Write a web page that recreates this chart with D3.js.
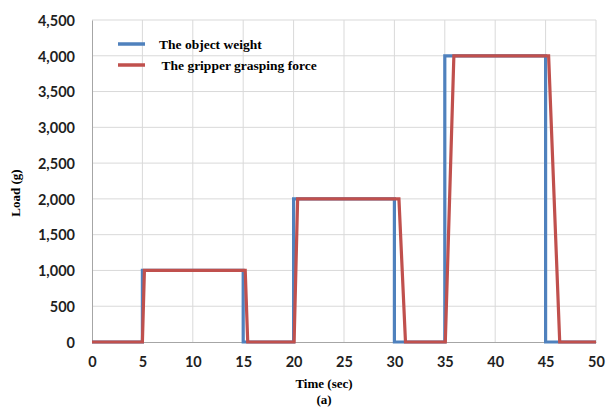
<!DOCTYPE html>
<html>
<head>
<meta charset="utf-8">
<script src="https://cdn.jsdelivr.net/npm/d3@7"></script>
<style>
  html, body { margin: 0; padding: 0; background: #fff; }
  svg { display: block; }
</style>
</head>
<body>
<svg id="chart" width="616" height="410"></svg>
<script>
// Object weight: ideal step profile (time in sec, load in g)
const weightTime = [0, 5, 5, 15, 15, 20, 20, 30, 30, 35, 35, 45, 45, 50];
const weightLoad = [0, 0, 1000, 1000, 0, 0, 2000, 2000, 0, 0, 4000, 4000, 0, 0];

// Gripper grasping force: follows the weight with a short ramp lag
const forceTime = [0, 5.0, 5.2, 15.2, 15.45, 20.05, 20.4, 30.45, 31.1, 35.05, 35.9, 45.3, 46.4, 50];
const forceLoad = [0, 0, 1000, 1000, 0, 0, 2000, 2000, 0, 0, 4000, 4000, 0, 0];

const xTicks = [0, 5, 10, 15, 20, 25, 30, 35, 40, 45, 50];
const yTicks = [0, 500, 1000, 1500, 2000, 2500, 3000, 3500, 4000, 4500];

const seriesNames = ["The object weight", "The gripper grasping force"];
const seriesColors = ["#4F81BD", "#C0504D"];

const svg = d3.select("#chart");
const plotLeft = 92, plotRight = 596, plotTop = 20, plotBottom = 342;

const x = d3.scaleLinear().domain([0, 50]).range([plotLeft, plotRight]);
const y = d3.scaleLinear().domain([0, 4500]).range([plotBottom, plotTop]);

// gridlines
const grid = svg.append("g");
grid.selectAll("line.v").data(xTicks.slice(1)).join("line")
  .attr("class", "v")
  .attr("x1", d => x(d)).attr("x2", d => x(d))
  .attr("y1", plotTop).attr("y2", plotBottom)
  .attr("stroke", "#d9d9d9").attr("stroke-width", 1);
grid.selectAll("line.h").data(yTicks.slice(1)).join("line")
  .attr("class", "h")
  .attr("x1", plotLeft).attr("x2", plotRight)
  .attr("y1", d => y(d)).attr("y2", d => y(d))
  .attr("stroke", "#d9d9d9").attr("stroke-width", 1);

// axes
const xAxis = svg.append("g")
  .attr("transform", `translate(0,${plotBottom})`)
  .call(d3.axisBottom(x).tickValues(xTicks).tickSize(0).tickPadding(15).tickFormat(d3.format("d")));
const yAxis = svg.append("g")
  .attr("transform", `translate(${plotLeft},0)`)
  .call(d3.axisLeft(y).tickValues(yTicks).tickSize(0).tickPadding(17).tickFormat(d3.format(",")));

[xAxis, yAxis].forEach(a => {
  a.select(".domain").attr("stroke", "#a6a6a6").attr("stroke-width", 1);
  a.selectAll("text")
    .attr("font-family", "Lato, 'Liberation Sans', sans-serif")
    .attr("font-weight", "bold")
    .attr("font-size", "14.5px")
    .attr("fill", "#1f1f1f");
});
yAxis.selectAll("text").attr("dy", "0.36em");

// series lines
const line = d3.line().x(d => x(d[0])).y(d => y(d[1]));
const weightPts = weightTime.map((t, i) => [t, weightLoad[i]]);
const forcePts = forceTime.map((t, i) => [t, forceLoad[i]]);

[weightPts, forcePts].forEach((pts, i) => {
  svg.append("path")
    .datum(pts)
    .attr("d", line)
    .attr("fill", "none")
    .attr("stroke", seriesColors[i])
    .attr("stroke-width", 3.2)
    .attr("stroke-linejoin", "miter");
});

// legend
const legend = svg.append("g");
seriesNames.forEach((name, i) => {
  const ly = 44 + i * 21;
  legend.append("line")
    .attr("x1", 118).attr("x2", 145)
    .attr("y1", ly).attr("y2", ly)
    .attr("stroke", seriesColors[i]).attr("stroke-width", 3.5);
  legend.append("text")
    .attr("x", 159 + i * 2.5).attr("y", ly + 4.5)
    .attr("font-family", "'Liberation Serif', 'Times New Roman', serif")
    .attr("font-weight", "bold")
    .attr("font-size", "13.5px")
    .attr("fill", "#000")
    .text(name);
});

// axis titles
svg.append("text")
  .attr("x", 324).attr("y", 388)
  .attr("text-anchor", "middle")
  .attr("font-family", "'Liberation Serif', 'Times New Roman', serif")
  .attr("font-weight", "bold").attr("font-size", "13px")
  .text("Time (sec)");
svg.append("text")
  .attr("x", 324).attr("y", 404)
  .attr("text-anchor", "middle")
  .attr("font-family", "'Liberation Serif', 'Times New Roman', serif")
  .attr("font-weight", "bold").attr("font-size", "13px")
  .text("(a)");
svg.append("text")
  .attr("transform", "translate(20,193) rotate(-90)")
  .attr("text-anchor", "middle")
  .attr("font-family", "'Liberation Serif', 'Times New Roman', serif")
  .attr("font-weight", "bold").attr("font-size", "13px")
  .text("Load (g)");
</script>
</body>
</html>
